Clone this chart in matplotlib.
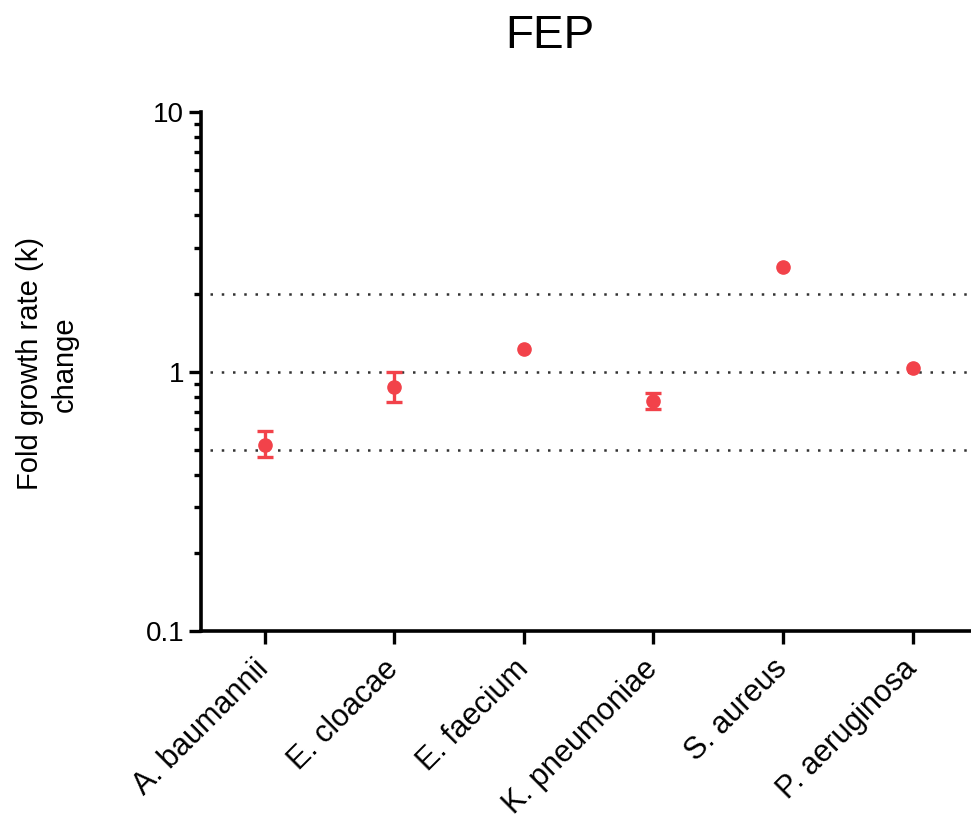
import numpy as np
import matplotlib.pyplot as plt
from matplotlib.ticker import FixedLocator, LogLocator, NullFormatter

plt.rcParams['font.family'] = ['Liberation Sans', 'DejaVu Sans']

# Data
species = ['A. baumannii', 'E. cloacae', 'E. faecium', 'K. pneumoniae', 'S. aureus', 'P. aeruginosa']
fold_change = [0.521, 0.874, 1.22, 0.772, 2.54, 1.03]
err_low = [0.468, 0.761, 1.22, 0.721, 2.54, 1.03]
err_high = [0.591, 0.993, 1.22, 0.826, 2.54, 1.03]
ref_lines = [0.5, 1, 2]
y_ticks = [0.1, 1, 10]
y_ticklabels = ['0.1', '1', '10']

red = '#F2424A'

fig = plt.figure(figsize=(9.71, 8.25), dpi=100)
ax = fig.add_axes([0.207, 0.235, 0.793, 0.629])

x = np.arange(len(species))
y = np.array(fold_change)
lo = np.array(err_low)
hi = np.array(err_high)
has_err = (hi - lo) > 0

# reference lines
for v in ref_lines:
    ax.axhline(v, xmin=0.012, xmax=1, color='#333333', linestyle=(0, (1, 3.5)),
               linewidth=1.8, zorder=1)

# error bars only where there is a spread
ax.errorbar(x[has_err], y[has_err],
            yerr=[y[has_err] - lo[has_err], hi[has_err] - y[has_err]],
            fmt='none', ecolor=red, elinewidth=2.4, capsize=6, capthick=2.4,
            zorder=3)
ax.plot(x, y, 'o', color=red, markersize=9.5, zorder=4)

ax.set_yscale('log')
ax.set_ylim(0.1, 10)
ax.set_xlim(-0.49, 5.45)

ax.yaxis.set_major_locator(FixedLocator(y_ticks))
ax.set_yticklabels(y_ticklabels)
ax.yaxis.set_minor_locator(LogLocator(base=10, subs=np.arange(2, 10)))
ax.yaxis.set_minor_formatter(NullFormatter())

ax.set_xticks(x)
ax.set_xticklabels(species, rotation=45, ha='right', va='center',
                   rotation_mode='anchor')

for s in ['top', 'right']:
    ax.spines[s].set_visible(False)
for s in ['left', 'bottom']:
    ax.spines[s].set_linewidth(2.6)

ax.tick_params(axis='both', which='major', length=9, width=2.4, direction='out')
ax.tick_params(axis='y', which='major', labelsize=20, pad=3)
ax.tick_params(axis='y', which='minor', length=5, width=2.4)
ax.tick_params(axis='x', labelsize=22, pad=15)

fig.text(47 / 971, 1 - 364 / 825, 'Fold growth rate (k)\nchange', fontsize=21,
         rotation=90, ha='center', va='center', linespacing=1.3,
         multialignment='center')

fig.text(549.5 / 971, 1 - 48 / 825, 'FEP', fontsize=33, ha='center', va='baseline')

fig.savefig('out.png', dpi=100)
